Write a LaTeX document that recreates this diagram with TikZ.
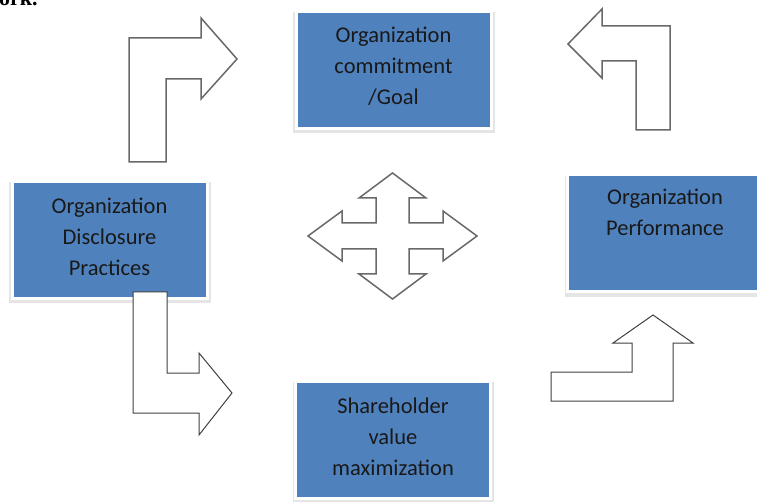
\documentclass[tikz,border=0pt]{standalone}
\usepackage{fontspec}
\setmainfont{Carlito}
\newfontfamily\headfont{Liberation Serif}
\usetikzlibrary{shadows}
\definecolor{boxblue}{RGB}{79,129,189}
\definecolor{edgegray}{RGB}{105,105,105}

\begin{document}
\begin{tikzpicture}[x=1pt, y=-1pt,
    box/.style={rectangle, fill=boxblue, draw=white, line width=3pt,
        minimum width=195pt, minimum height=117pt, inner sep=0pt,
        drop shadow={shadow xshift=0.5pt, shadow yshift=-2.5pt, shadow scale=1.035, fill=gray!40}},
    boxtext/.style={align=center, inner sep=0pt, text=black!90, yshift=3.5pt,
        font=\fontsize{22.5}{31}\selectfont},
    bentarrow/.style={draw=edgegray, fill=white, line width=1.5pt, line join=miter},
    thinarrow/.style={bentarrow, draw=black!75, line width=1pt}]
    \useasboundingbox (0, 0) rectangle (757, 502);
    \clip (0, 0) rectangle (757, 502);

    \node[anchor=base west, inner sep=0pt, font=\headfont\bfseries\fontsize{22}{26}\selectfont] (title) at (-1, 6) {ork.};

    % boxes
    \node[box, label={[boxtext]center:Organization\\commitment\\/Goal}] (goal) at (393.5, 70) {};
    \node[box, label={[boxtext]center:Organization\\Disclosure\\Practices}] (disclosure) at (109.5, 240) {};
    \node[box, label={[boxtext, yshift=18pt]center:Organization\\Performance}] (performance) at (665, 233.5) {};
    \node[box, label={[boxtext]center:Shareholder\\value\\maximization}] (value) at (393, 440) {};

    % bent arrows
    \draw[bentarrow] (129, 162) -- (129, 38) -- (201, 38) -- (201, 18) -- (237, 59)
        -- (201, 99) -- (201, 79) -- (166, 79) -- (166, 162) -- cycle;
    \draw[bentarrow] (670, 130) -- (670, 26) -- (602, 26) -- (602, 9) -- (568, 44)
        -- (602, 78) -- (602, 61) -- (636, 61) -- (636, 130) -- cycle;
    \draw[thinarrow] (133, 292) -- (133, 413) -- (199, 413) -- (199, 435) -- (232, 393)
        -- (199, 353) -- (199, 373) -- (167, 373) -- (167, 292) -- cycle;
    \draw[thinarrow] (551, 401) -- (673, 401) -- (673, 343) -- (693, 343) -- (653, 315)
        -- (613, 343) -- (632, 343) -- (632, 372) -- (551, 372) -- cycle;

    % four way arrow
    \draw[bentarrow, shift={(392.5, 236)}] (0, -63) -- (33.5, -38) -- (16.5, -38) -- (16.5, -13)
        -- (50.5, -13) -- (50.5, -25) -- (84.5, 0) -- (50.5, 25) -- (50.5, 13)
        -- (16.5, 13) -- (16.5, 38) -- (33.5, 38) -- (0, 63) -- (-33.5, 38)
        -- (-16.5, 38) -- (-16.5, 13) -- (-50.5, 13) -- (-50.5, 25) -- (-84.5, 0)
        -- (-50.5, -25) -- (-50.5, -13) -- (-16.5, -13) -- (-16.5, -38) -- (-33.5, -38) -- cycle;
\end{tikzpicture}
\end{document}
